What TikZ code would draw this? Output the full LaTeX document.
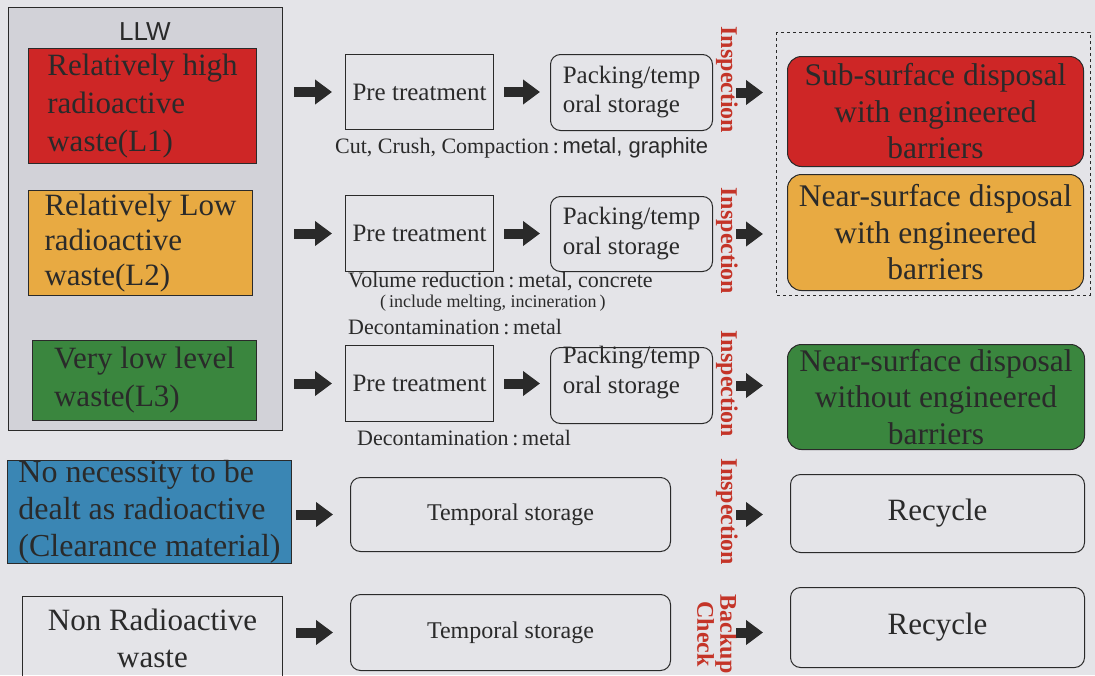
\documentclass[tikz,border=0pt]{standalone}
\usepackage{fontspec}
\setmainfont{Liberation Serif}
\setsansfont{Liberation Sans}
\usetikzlibrary{arrows.meta,calc}
\definecolor{bg}{RGB}{228,228,232}
\definecolor{llwbg}{RGB}{210,210,216}
\definecolor{cred}{RGB}{206,38,38}
\definecolor{corange}{RGB}{232,170,66}
\definecolor{cgreen}{RGB}{58,134,62}
\definecolor{cblue}{RGB}{58,134,180}
\definecolor{ink}{RGB}{42,42,42}
\definecolor{insred}{RGB}{196,52,40}
\newcommand\fsz[2]{\fontsize{#1}{#2}\selectfont}
\begin{document}
\begin{tikzpicture}[x=1pt,y=-1pt,
  box/.style={draw=ink, line width=1pt, text=ink, inner sep=0pt, anchor=north west},
  rbox/.style={box, rounded corners=10pt},
  dbox/.style={box, rounded corners=14pt, align=center, font=\fsz{31.5}{36.5}},
  wbox/.style={box, font=\fsz{31}{38}, align=left},
  lbl/.style={inner sep=0pt, text=ink, anchor=west},
  insp/.style={inner sep=0pt, text=insred, rotate=-90, font=\bfseries\fsz{24}{23}},
  bigarr/.style={draw=ink, line width=10pt, -{Triangle[length=17pt,width=24pt]}},
]
\useasboundingbox (0,0) rectangle (1095,675);
\fill[bg] (0,0) rectangle (1095,675);

% LLW group
\node[box, fill=llwbg, minimum width=274, minimum height=423] (llw) at (8,7) {};
\node[inner sep=0pt, text=ink, font=\sffamily\fsz{26}{30}] (llwlbl) at (145,32) {LLW};
\node[wbox, fill=cred, minimum width=228, minimum height=115] (l1) at (28,48) {Relatively high\\radioactive\\waste(L1)};
\node[wbox, fill=corange, minimum width=224, minimum height=105, font=\fsz{31}{35}] (l2) at (28,190) {Relatively Low\\radioactive\\waste(L2)};
\node[wbox, fill=cgreen, minimum width=224, minimum height=80] (l3) at (32,340) {Very low level\\waste(L3)};
\node[wbox, fill=cblue, minimum width=284, minimum height=103, font=\fsz{32}{37}] (clr) at (7,460) {No necessity to be\\dealt as radioactive\\(Clearance material)};
\node[box, minimum width=260, minimum height=84, align=center, font=\fsz{31}{37}] (nonrad) at (22,596) {Non Radioactive\\waste};

% treatment boxes
\node[box, minimum width=148, minimum height=75, font=\fsz{25}{29}] (pre1) at (345,54) {Pre treatment};
\node[box, minimum width=148, minimum height=76, font=\fsz{25}{29}] (pre2) at (345,195) {Pre treatment};
\node[box, minimum width=148, minimum height=76, font=\fsz{25}{29}] (pre3) at (345,345) {Pre treatment};
\node[rbox, minimum width=162, minimum height=76, align=left, font=\fsz{25}{29}] (pack1) at (550,54) {Packing/temp\\oral storage};
\node[rbox, minimum width=162, minimum height=75, align=left, font=\fsz{25}{30}] (pack2) at (550,196) {Packing/temp\\oral storage};
\node[rbox, minimum width=162, minimum height=76] (pack3) at (550,347) {};
\node[inner sep=0pt, text=ink, align=left, font=\fsz{25}{30}] (pack3t) at ($(pack3.center)+(0,-13)$) {Packing/temp\\oral storage};
\node[rbox, minimum width=320, minimum height=74, font=\fsz{24}{28}] (tmp1) at (350,477) {Temporal storage};
\node[rbox, minimum width=320, minimum height=76, font=\fsz{24}{28}] (tmp2) at (350,594) {Temporal storage};

% annotations
\node[lbl, font=\fsz{22}{26}] (ann1) at (335,148) {Cut, Crush, Compaction\,:\,\textsf{metal, graphite}};
\node[lbl, font=\fsz{22}{26}] (ann2) at (348,282) {Volume reduction\,:\,metal, concrete};
\node[lbl, font=\fsz{18}{22}] (ann3) at (380,303) {(\,include melting, incineration\,)};
\node[lbl, font=\fsz{22}{26}] (ann4) at (348,327) {Decontamination\,:\,metal};
\node[lbl, font=\fsz{22}{26}] (ann5) at (357,438) {Decontamination\,:\,metal};

% destinations
\draw[ink, line width=0.8pt, dashed] (776,32) rectangle (1090,295);
\node[dbox, fill=cred, minimum width=296, minimum height=110] (dsp1) at (787,56) {Sub-surface disposal\\with engineered\\barriers};
\node[dbox, fill=corange, minimum width=296, minimum height=116] (dsp2) at (787,174) {Near-surface disposal\\with engineered\\barriers};
\node[dbox, fill=cgreen, minimum width=297, minimum height=105] (dsp3) at (787,344) {Near-surface disposal\\without engineered\\barriers};
\node[rbox, minimum width=294, minimum height=78, font=\fsz{31}{36}] (rec1) at (790,474) {Recycle};
\node[rbox, minimum width=294, minimum height=80, font=\fsz{31}{36}] (rec2) at (790,587) {Recycle};

% checks
\node[insp] (ins1) at (727,80) {Inspection};
\node[insp] (ins2) at (727,241) {Inspection};
\node[insp] (ins3) at (727,384) {Inspection};
\node[insp] (ins4) at (727,512) {Inspection};
\node[insp, align=center] (bkp) at (717,634) {Backup\\Check};

% arrows
\draw[bigarr, shorten <=11pt, shorten >=13pt] (llw.east |- pre1.west) -- (pre1.west);
\draw[bigarr, shorten <=11pt, shorten >=13pt] (llw.east |- pre2.west) -- (pre2.west);
\draw[bigarr, shorten <=11pt, shorten >=13pt] (llw.east |- pre3.west) -- (pre3.west);
\draw[bigarr, shorten <=10pt, shorten >=10pt] (pre1.east) -- (pre1.east -| pack1.west);
\draw[bigarr, shorten <=10pt, shorten >=10pt] (pre2.east) -- (pre2.east -| pack2.west);
\draw[bigarr, shorten <=10pt, shorten >=10pt] (pre3.east) -- (pre3.east -| pack3.west);
\draw[bigarr, shorten <=23pt, shorten >=24pt] (pack1.east) -- (pack1.east -| dsp1.west);
\draw[bigarr, shorten <=23pt, shorten >=24pt] (pack2.east) -- (pack2.east -| dsp2.west);
\draw[bigarr, shorten <=23pt, shorten >=24pt] (pack3.east) -- (pack3.east -| dsp3.west);
\draw[bigarr, shorten <=4pt, shorten >=17pt] (clr.east |- tmp1.west) -- (tmp1.west);
\draw[bigarr, shorten <=13pt, shorten >=17pt] (nonrad.east |- tmp2.west) -- (tmp2.west);
\draw[bigarr, shorten <=65pt, shorten >=27pt] (tmp1.east) -- (tmp1.east -| rec1.west);
\draw[bigarr, shorten <=65pt, shorten >=27pt] (tmp2.east) -- (tmp2.east -| rec2.west);
\end{tikzpicture}
\end{document}
